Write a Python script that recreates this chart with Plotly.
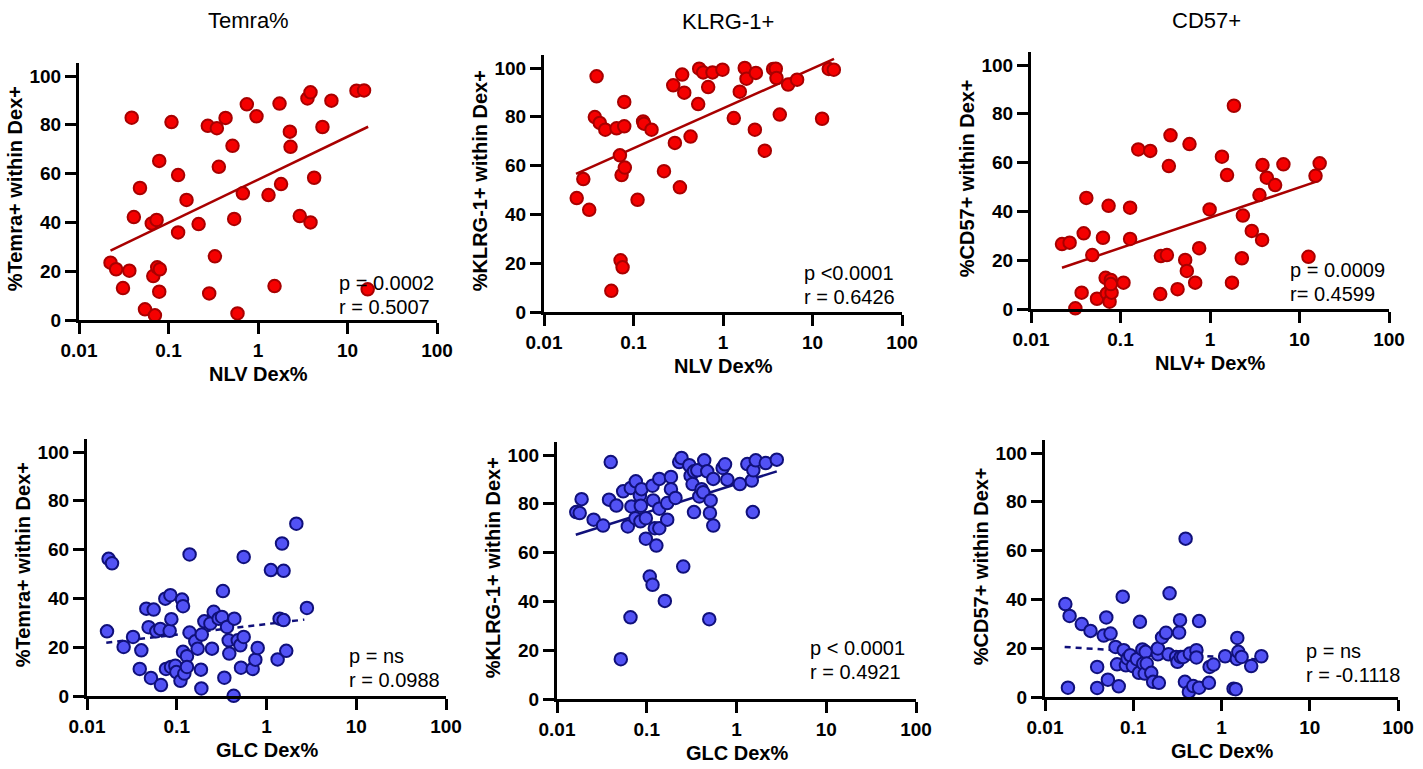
import plotly.graph_objects as go

# ---------------- data ----------------
# Panel 1: Temra% vs NLV Dex%
nlv_temra_x = [0.0225, 0.026, 0.031, 0.0365, 0.0388, 0.041, 0.048, 0.0546, 0.065, 0.0705,
               0.0676, 0.0736, 0.0748, 0.0788, 0.080, 0.0788, 0.108, 0.128, 0.128, 0.159,
               0.217, 0.275, 0.285, 0.330, 0.347, 0.365, 0.434, 0.519, 0.542, 0.590,
               0.677, 0.750, 0.962, 1.31, 1.53, 1.74, 1.81, 2.27, 2.31, 2.93,
               3.57, 3.86, 3.86, 4.24, 5.25, 6.61, 12.6, 15.3, 16.8]
nlv_temra_y = [23.5, 20.8, 13.1, 20.2, 82.9, 42.2, 54.1, 4.4, 39.6, 1.9,
               18.0, 41.0, 21.6, 65.2, 20.8, 11.6, 81.1, 59.4, 35.9, 49.2,
               39.3, 79.6, 10.9, 26.1, 78.6, 62.8, 82.8, 71.4, 41.4, 2.7,
               51.9, 88.4, 83.5, 51.2, 13.9, 88.7, 55.7, 77.2, 71.0, 42.6,
               90.8, 93.3, 40.0, 58.3, 79.1, 89.9, 94.0, 94.1, 12.6]
nlv_temra_fit_x = [0.0225, 17.0]
nlv_temra_fit_y = [28.4, 79.2]

# Panel 2: KLRG-1+ vs NLV Dex%
nlv_klrg_x = [0.0232, 0.0275, 0.032, 0.037, 0.0387, 0.042, 0.0484, 0.0565, 0.0647, 0.0705,
              0.0717, 0.0736, 0.0755, 0.0788, 0.0788, 0.080, 0.111, 0.128, 0.131, 0.159,
              0.219, 0.278, 0.290, 0.330, 0.350, 0.369, 0.434, 0.528, 0.542, 0.601,
              0.683, 0.764, 0.987, 1.32, 1.54, 1.75, 1.83, 2.27, 2.33, 2.93,
              3.63, 3.89, 3.96, 4.31, 5.34, 6.73, 12.8, 15.2, 17.3]
nlv_klrg_y = [46.7, 54.5, 41.9, 79.9, 96.6, 77.5, 74.7, 8.7, 75.3, 64.2,
              21.2, 56.1, 18.3, 86.1, 76.1, 59.2, 46.0, 78.1, 77.2, 74.7,
              57.7, 92.9, 69.3, 51.1, 97.3, 89.9, 71.9, 85.2, 99.7, 98.2,
              92.2, 98.2, 99.3, 79.5, 90.3, 100.0, 95.6, 74.7, 98.0, 66.1,
              99.6, 99.7, 95.9, 80.9, 93.2, 95.2, 79.2, 99.6, 99.3]
nlv_klrg_fit_x = [0.0228, 17.4]
nlv_klrg_fit_y = [56.6, 103.7]

# Panel 3: CD57+ vs NLV+ Dex%
nlv_cd57_x = [0.0222, 0.027, 0.0313, 0.0368, 0.0388, 0.0415, 0.0484, 0.0546, 0.0637, 0.0682,
              0.0705, 0.0736, 0.0755, 0.078, 0.0795, 0.078, 0.108, 0.128, 0.128, 0.158,
              0.215, 0.278, 0.283, 0.330, 0.347, 0.362, 0.434, 0.528, 0.551, 0.590,
              0.683, 0.757, 0.99, 1.36, 1.55, 1.76, 1.85, 2.27, 2.33, 2.93,
              3.57, 3.82, 3.86, 4.31, 5.34, 6.61, 12.6, 15.1, 16.8]
nlv_cd57_y = [26.6, 27.2, 0.3, 6.7, 31.0, 45.5, 22.1, 4.2, 29.2, 12.8,
              6.4, 42.3, 3.0, 11.9, 6.7, 10.2, 10.8, 41.5, 28.7, 65.4,
              64.8, 6.1, 21.7, 22.1, 58.6, 71.2, 8.1, 20.1, 15.6, 67.6,
              10.8, 24.9, 40.8, 62.4, 54.9, 10.8, 83.3, 20.8, 38.3, 32.0,
              46.7, 28.3, 59.0, 53.8, 50.8, 59.3, 21.4, 54.6, 59.7]
nlv_cd57_fit_x = [0.0222, 16.3]
nlv_cd57_fit_y = [16.9, 52.5]

# Panel 4: Temra% vs GLC Dex%
glc_temra_x = [0.0167, 0.0174, 0.019, 0.0256, 0.0326, 0.0387, 0.0403, 0.0458, 0.0486, 0.0516,
               0.0553, 0.0592, 0.0656, 0.0667, 0.0746, 0.0759, 0.0834, 0.0849, 0.0871, 0.0863,
               0.0965, 0.099, 0.110, 0.1145, 0.1175, 0.1175, 0.1215, 0.130, 0.130, 0.139,
               0.139, 0.161, 0.171, 0.190, 0.186, 0.188, 0.203, 0.237, 0.247, 0.258,
               0.293, 0.319, 0.327, 0.339, 0.363, 0.379, 0.385, 0.431, 0.438, 0.478,
               0.511, 0.520, 0.557, 0.557, 0.702, 0.751, 0.798, 1.12, 1.33, 1.40,
               1.49, 1.55, 1.55, 1.66, 2.15, 2.82]
glc_temra_y = [26.5, 56.2, 54.4, 20.1, 24.2, 11.1, 18.7, 35.8, 28.2, 7.4,
               35.4, 26.5, 27.5, 4.5, 39.9, 11.1, 26.7, 41.3, 31.5, 11.9,
               12.4, 9.8, 6.2, 39.5, 36.8, 18.1, 9.2, 16.3, 11.9, 58.0,
               26.0, 22.4, 19.4, 25.2, 10.8, 3.1, 30.6, 29.7, 19.4, 34.5,
               31.7, 32.4, 43.0, 7.5, 28.3, 22.8, 17.4, 0.1, 31.7, 22.8,
               20.8, 11.6, 24.2, 57.0, 11.1, 14.9, 19.7, 51.6, 15.0, 31.7,
               62.5, 51.3, 31.1, 18.5, 70.6, 36.1]
glc_temra_fit_x = [0.0164, 2.64]
glc_temra_fit_y = [21.8, 31.3]

# Panel 5: KLRG-1+ vs GLC Dex%
glc_klrg_x = [0.0164, 0.0179, 0.0188, 0.0256, 0.0326, 0.038, 0.0397, 0.0459, 0.0514, 0.0546,
              0.0615, 0.0659, 0.0664, 0.0676, 0.0748, 0.0755, 0.0838, 0.0859, 0.0874, 0.0851,
              0.0977, 0.0977, 0.108, 0.116, 0.116, 0.118, 0.123, 0.128, 0.138, 0.138,
              0.138, 0.159, 0.169, 0.169, 0.186, 0.186, 0.209, 0.230, 0.244, 0.255,
              0.298, 0.308, 0.324, 0.336, 0.336, 0.366, 0.385, 0.408, 0.426, 0.437,
              0.472, 0.497, 0.506, 0.515, 0.551, 0.551, 0.701, 0.745, 0.790, 1.09,
              1.32, 1.48, 1.52, 1.54, 1.64, 2.12, 2.81]
glc_klrg_y = [76.6, 76.2, 81.9, 73.5, 71.1, 81.7, 97.1, 79.3, 16.3, 85.1,
              70.7, 33.5, 86.5, 78.9, 74.1, 89.2, 83.4, 79.2, 86.0, 72.8,
              74.1, 65.7, 50.2, 46.8, 87.4, 81.4, 70.0, 62.9, 70.0, 90.2,
              78.0, 40.2, 73.5, 80.3, 91.0, 86.0, 82.4, 97.1, 98.8, 54.3,
              95.8, 91.5, 88.1, 76.6, 93.3, 93.7, 83.0, 86.0, 84.7, 97.8,
              93.3, 32.7, 76.2, 81.4, 90.2, 71.1, 94.7, 96.2, 89.9, 88.1,
              96.3, 89.5, 76.6, 93.7, 97.8, 96.7, 98.1]
glc_klrg_fit_x = [0.0162, 2.81]
glc_klrg_fit_y = [67.3, 93.3]

# Panel 6: CD57+ vs GLC Dex%
glc_cd57_x = [0.0170, 0.0182, 0.0190, 0.0261, 0.0328, 0.039, 0.039, 0.0463, 0.0495, 0.0516,
              0.0553, 0.063, 0.0656, 0.0685, 0.076, 0.078, 0.0826, 0.0862, 0.0924, 0.099,
              0.110, 0.116, 0.119, 0.127, 0.130, 0.135, 0.138, 0.142, 0.160, 0.168,
              0.190, 0.190, 0.195, 0.212, 0.235, 0.251, 0.258, 0.306, 0.317, 0.331,
              0.339, 0.345, 0.369, 0.385, 0.392, 0.427, 0.438, 0.478, 0.520, 0.520,
              0.557, 0.557, 0.720, 0.733, 0.811, 1.10, 1.37, 1.45, 1.49, 1.51,
              1.55, 1.69, 2.17, 2.83]
glc_cd57_y = [38.1, 3.8, 33.2, 29.9, 27.1, 12.3, 3.7, 25.2, 32.6, 7.1,
              26.0, 20.5, 13.4, 4.4, 41.1, 19.2, 13.0, 15.8, 17.1, 12.7,
              15.5, 9.9, 30.8, 19.5, 13.7, 9.6, 18.5, 13.7, 9.9, 6.2,
              17.5, 19.9, 5.8, 24.4, 26.3, 17.5, 42.5, 16.4, 14.4, 26.4,
              31.5, 16.4, 16.4, 6.2, 64.9, 2.1, 17.8, 4.5, 19.2, 16.2,
              3.8, 31.1, 5.8, 12.3, 13.3, 16.7, 3.4, 3.2, 15.6, 24.2,
              18.5, 16.4, 12.7, 16.7]
glc_cd57_fit_x = [0.0167, 2.8]
glc_cd57_fit_y = [20.5, 15.3]

col_titles = ["Temra%", "KLRG-1+", "CD57+"]
y_titles = ["%Temra+ within Dex+", "%KLRG-1+ within Dex+", "%CD57+ within Dex+"]
x_titles_top = ["NLV Dex%", "NLV Dex%", "NLV+ Dex%"]
x_titles_bottom = ["GLC Dex%", "GLC Dex%", "GLC Dex%"]
stats_top = [("p = 0.0002", "r = 0.5007"), ("p <0.0001", "r = 0.6426"), ("p = 0.0009", "r= 0.4599")]
stats_bottom = [("p = ns", "r = 0.0988"), ("p < 0.0001", "r = 0.4921"), ("p = ns", "r = -0.1118")]
x_tickvals = [0.01, 0.1, 1, 10, 100]
x_ticktext = ["0.01", "0.1", "1", "10", "100"]
y_tickvals = [0, 20, 40, 60, 80, 100]
y_ticktext = ["0", "20", "40", "60", "80", "100"]

# ---------------- layout geometry (pixels) ----------------
W, H = 1423, 769
YMAX = 105.5
PX_PER_UNIT = 2.44
# (left px, right px, y=0 px)
panels = [
    (79, 437, 320), (544, 902, 312), (1031, 1389, 309),
    (87, 446, 696), (557, 916, 699), (1045, 1398, 697),
]

RED_FILL, RED_LINE = "#f50000", "#a80000"
BLUE_FILL, BLUE_LINE = "#5252f5", "#10107a"
FONT = "Liberation Sans, Arial, sans-serif"

series = [
    (nlv_temra_x, nlv_temra_y, nlv_temra_fit_x, nlv_temra_fit_y, "red", "solid"),
    (nlv_klrg_x, nlv_klrg_y, nlv_klrg_fit_x, nlv_klrg_fit_y, "red", "solid"),
    (nlv_cd57_x, nlv_cd57_y, nlv_cd57_fit_x, nlv_cd57_fit_y, "red", "solid"),
    (glc_temra_x, glc_temra_y, glc_temra_fit_x, glc_temra_fit_y, "blue", "dash"),
    (glc_klrg_x, glc_klrg_y, glc_klrg_fit_x, glc_klrg_fit_y, "blue", "solid"),
    (glc_cd57_x, glc_cd57_y, glc_cd57_fit_x, glc_cd57_fit_y, "blue", "dash"),
]

fig = go.Figure()
layout = dict(
    template="none",
    width=W, height=H, margin=dict(l=0, r=0, t=0, b=0, pad=0),
    paper_bgcolor="white", plot_bgcolor="white", showlegend=False,
    font=dict(family=FONT, color="black"),
)
annotations = []

for i, ((xl, xr, y0), (sx, sy, fx, fy, colr, dash)) in enumerate(zip(panels, series)):
    n = i + 1
    xa = "x" if n == 1 else f"x{n}"
    ya = "y" if n == 1 else f"y{n}"
    ytop = y0 - YMAX * PX_PER_UNIT
    dom_x = [xl / W, xr / W]
    dom_y = [1 - y0 / H, 1 - ytop / H]
    fill, line = (RED_FILL, RED_LINE) if colr == "red" else (BLUE_FILL, BLUE_LINE)

    fig.add_trace(go.Scatter(
        x=fx, y=fy, mode="lines", xaxis=xa, yaxis=ya,
        line=dict(color=line, width=2.5, dash="6px,5px" if dash == "dash" else "solid"),
        hoverinfo="skip",
    ))
    fig.add_trace(go.Scatter(
        x=sx, y=sy, mode="markers", xaxis=xa, yaxis=ya, cliponaxis=False,
        marker=dict(size=12.5, color=fill, line=dict(color=line, width=2)),
    ))

    layout["xaxis" if n == 1 else f"xaxis{n}"] = dict(
        domain=dom_x, anchor=ya, type="log", range=[-2, 2], automargin=False,
        tickmode="array", tickvals=x_tickvals, ticktext=[f"<b>{t}</b>" for t in x_ticktext],
        showline=True, linecolor="black", linewidth=3, mirror=False,
        ticks="outside", ticklen=11, tickwidth=2.5, tickcolor="black",
        showgrid=False, zeroline=False, ticklabeloverflow="allow",
        tickfont=dict(family=FONT, size=19, color="black"),
    )
    layout["yaxis" if n == 1 else f"yaxis{n}"] = dict(
        domain=dom_y, anchor=xa, range=[0, YMAX], automargin=False,
        tickmode="array", tickvals=y_tickvals, ticktext=[f"<b>{t}</b>" for t in y_ticktext],
        showline=True, linecolor="black", linewidth=3, mirror=False,
        ticks="outside", ticklen=11, tickwidth=2.5, tickcolor="black",
        showgrid=False, zeroline=False, ticklabeloverflow="allow",
        tickfont=dict(family=FONT, size=19, color="black"),
    )

    col = i % 3
    top = i < 3
    # y-axis title
    annotations.append(dict(
        text=f"<b>{y_titles[col]}</b>", xref="paper", yref="paper",
        x=(xl - 64) / W, y=1 - ((y0 + ytop) / 2 - 2) / H,
        textangle=-90, showarrow=False, xanchor="center", yanchor="middle",
        font=dict(family=FONT, size=20, color="black"),
    ))
    # x-axis title
    annotations.append(dict(
        text=f"<b>{(x_titles_top if top else x_titles_bottom)[col]}</b>",
        xref="paper", yref="paper",
        x=((xl + xr) / 2) / W, y=1 - (y0 + 54) / H,
        showarrow=False, xanchor="center", yanchor="middle",
        font=dict(family=FONT, size=20, color="black"),
    ))

# stats text (left px, first line center px)
stats_pos = [(337, 283), (802, 273), (1288, 270), (347, 656), (808, 648), (1304, 651)]
for i, (lx, ly) in enumerate(stats_pos):
    p, r = (stats_top + stats_bottom)[i]
    for k, t in enumerate((p, r)):
        annotations.append(dict(
            text=t, xref="paper", yref="paper",
            x=lx / W, y=1 - (ly + 24 * k) / H,
            showarrow=False, xanchor="left", yanchor="middle",
            font=dict(family=FONT, size=20, color="black"),
        ))

# column titles
for cx, cy, t in [(248, 20, col_titles[0]), (728, 22, col_titles[1]), (1206, 21, col_titles[2])]:
    annotations.append(dict(
        text=t, xref="paper", yref="paper", x=cx / W, y=1 - cy / H,
        showarrow=False, xanchor="center", yanchor="middle",
        font=dict(family=FONT, size=22, color="black"),
    ))

layout["annotations"] = annotations
fig.update_layout(**layout)
fig.write_html(
    "out.html",
    config={"displayModeBar": False},
    post_script=(
        "document.body.style.margin='0';"
        "document.body.style.overflow='hidden';"
    ),
)
